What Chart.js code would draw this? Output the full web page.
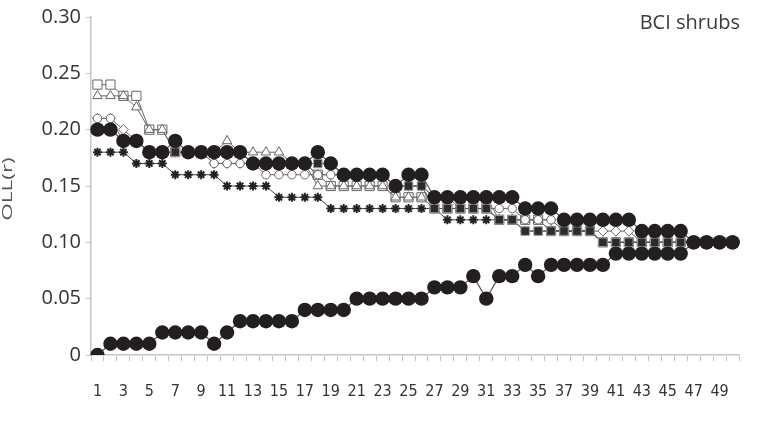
<!DOCTYPE html>
<html><head><meta charset="utf-8">
<script src="https://cdn.jsdelivr.net/npm/chart.js@4.4.1/dist/chart.umd.min.js"></script>
<style>html,body{margin:0;padding:0;background:#fff;}#wrap{width:757px;height:423px;}</style>
</head><body><div id="wrap"><canvas id="c" width="757" height="423"></canvas></div>
<script>
const categories = ['1','2','3','4','5','6','7','8','9','10','11','12','13','14','15','16','17','18','19','20','21','22','23','24','25','26','27','28','29','30','31','32','33','34','35','36','37','38','39','40','41','42','43','44','45','46','47','48','49','50'];
const yTicks = [0, 0.05, 0.10, 0.15, 0.20, 0.25, 0.30];
const chartLabel = 'BCI shrubs';
const yTitle = 'OLL(r)';

const upperCircles = [0.20,0.20,0.19,0.19,0.18,0.18,0.19,0.18,0.18,0.18,0.18,0.18,0.17,0.17,0.17,0.17,0.17,0.18,0.17,0.16,0.16,0.16,0.16,0.15,0.16,0.16,0.14,0.14,0.14,0.14,0.14,0.14,0.14,0.13,0.13,0.13,0.12,0.12,0.12,0.12,0.12,0.12,0.11,0.11,0.11,0.11,0.10,0.10,0.10,0.10];
const lowerCircles = [0,0.01,0.01,0.01,0.01,0.02,0.02,0.02,0.02,0.01,0.02,0.03,0.03,0.03,0.03,0.03,0.04,0.04,0.04,0.04,0.05,0.05,0.05,0.05,0.05,0.05,0.06,0.06,0.06,0.07,0.05,0.07,0.07,0.08,0.07,0.08,0.08,0.08,0.08,0.08,0.09,0.09,0.09,0.09,0.09,0.09,0.10,0.10,0.10,0.10];
const filledSquares = [0.20,0.20,0.19,0.19,0.18,0.18,0.18,0.18,0.18,0.18,0.18,0.18,0.17,0.17,0.17,0.17,0.17,0.17,0.17,0.16,0.16,0.16,0.16,0.15,0.15,0.15,0.13,0.13,0.13,0.13,0.13,0.12,0.12,0.11,0.11,0.11,0.11,0.11,0.11,0.10,0.10,0.10,0.10,0.10,0.10,0.10,0.10,0.10,0.10,0.10];
const asterisks = [0.18,0.18,0.18,0.17,0.17,0.17,0.16,0.16,0.16,0.16,0.15,0.15,0.15,0.15,0.14,0.14,0.14,0.14,0.13,0.13,0.13,0.13,0.13,0.13,0.13,0.13,0.13,0.12,0.12,0.12,0.12,0.12,0.12,0.11,0.11,0.11,0.11,0.11,0.11,0.10,0.10,0.10,0.10,0.10,0.10,0.10,0.10,0.10,0.10,0.10];
const openCircles = [0.21,0.21,0.19,0.19,0.18,0.18,0.18,0.18,0.18,0.17,0.17,0.17,0.17,0.16,0.16,0.16,0.16,0.16,0.16,0.16,0.16,0.16,0.16,0.15,0.15,0.15,0.14,0.14,0.13,0.13,0.13,0.13,0.13,0.12,0.12,0.12,0.11,0.11,0.11,0.10,0.10,0.10,0.10,0.10,0.10,0.10,0.10,0.10,0.10,0.10];
const openDiamonds = [0.21,0.21,0.20,0.19,0.18,0.18,0.18,0.18,0.18,0.17,0.17,0.17,0.17,0.17,0.17,0.17,0.17,0.16,0.16,0.16,0.16,0.16,0.16,0.15,0.15,0.15,0.14,0.14,0.14,0.14,0.14,0.12,0.12,0.12,0.12,0.12,0.11,0.11,0.11,0.11,0.11,0.11,0.10,0.10,0.10,0.10,0.10,0.10,0.10,0.10];
const openTriangles = [0.23,0.23,0.23,0.22,0.20,0.20,0.18,0.18,0.18,0.18,0.19,0.18,0.18,0.18,0.18,0.17,0.17,0.15,0.15,0.15,0.15,0.15,0.15,0.14,0.14,0.14,0.13,0.13,0.13,0.13,0.13,0.12,0.12,0.12,0.12,0.11,0.11,0.11,0.11,0.10,0.10,0.10,0.10,0.10,0.10,0.10,0.10,0.10,0.10,0.10];
const openSquares = [0.24,0.24,0.23,0.23,0.20,0.20,0.18,0.18,0.18,0.18,0.18,0.18,0.17,0.17,0.17,0.17,0.17,0.16,0.15,0.15,0.15,0.15,0.15,0.14,0.14,0.14,0.13,0.13,0.13,0.13,0.13,0.12,0.12,0.12,0.12,0.11,0.11,0.11,0.11,0.10,0.10,0.10,0.10,0.10,0.10,0.10,0.10,0.10,0.10,0.10];

function ds(label, data, style, radius, bg, border, bw, lineColor, lw) {
  return { label, data, pointStyle: style, pointRadius: radius, pointHoverRadius: radius,
    pointBackgroundColor: bg, pointBorderColor: border, pointBorderWidth: bw,
    borderColor: lineColor, borderWidth: lw, fill: false, tension: 0 };
}

const textPlugin = {
  id: 'textPlugin',
  afterDraw(chart) {
    const ctx = chart.ctx;
    const area = chart.chartArea;
    ctx.save();
    ctx.font = '20px "Open Sans", sans-serif';
    ctx.fillStyle = '#3a3a3a';
    ctx.textAlign = 'right';
    ctx.textBaseline = 'middle';
    ctx.fillText(chartLabel, area.right + 1, 23);
    ctx.restore();

    ctx.save();
    ctx.translate(8, (area.top + area.bottom) / 2 + 3);
    ctx.rotate(-Math.PI / 2);
    ctx.scale(1.5, 1);
    ctx.font = '15px "Open Sans", sans-serif';
    ctx.fillStyle = '#555';
    ctx.textAlign = 'center';
    ctx.textBaseline = 'middle';
    ctx.fillText(yTitle, 0, 0);
    ctx.restore();
  }
};

new Chart(document.getElementById('c'), {
  type: 'line',
  data: {
    labels: categories,
    datasets: [
      ds('upper', upperCircles, 'circle', 7.2, '#231f20', '#231f20', 0, '#555', 1.2),
      ds('lower', lowerCircles, 'circle', 7.2, '#231f20', '#231f20', 0, '#555', 1.2),
      ds('filled squares', filledSquares, 'rect', 6, '#2b2b2b', '#9a9a9a', 1, '#555', 1),
      ds('asterisks', asterisks, 'star', 4.5, '#222', '#222', 2, '#444', 1),
      ds('open circles', openCircles, 'circle', 4.2, '#fff', '#666', 1, '#666', 1),
      ds('open diamonds', openDiamonds, 'rectRot', 5, '#fff', '#666', 1, '#666', 1),
      ds('open triangles', openTriangles, 'triangle', 5.5, '#fff', '#666', 1, '#666', 1),
      ds('open squares', openSquares, 'rect', 6.5, '#fff', '#666', 1, '#666', 1)
    ]
  },
  options: {
    responsive: false,
    animation: false,
    events: [],
    layout: { padding: { top: 16, right: 18, left: 0, bottom: 0 } },
    plugins: { legend: { display: false }, tooltip: { enabled: false } },
    scales: {
      x: {
        type: 'category',
        offset: true,
        afterFit(s) { s.height = 68; },
        border: { color: '#c4c4c4', width: 1.5 },
        grid: { offset: true, drawOnChartArea: false, drawTicks: true, tickLength: 6, color: '#c4c4c4' },
        ticks: {
          autoSkip: false, maxRotation: 0, minRotation: 0, padding: 21,
          color: '#333',
          font: { family: '"Liberation Sans Narrow", "DejaVu Sans Condensed", sans-serif', size: 16 },
          callback(v, i) { return i % 2 === 0 ? categories[i] : ''; }
        }
      },
      y: {
        min: 0, max: 0.30,
        afterFit(s) { s.width = 91; },
        afterBuildTicks(s) { s.ticks = yTicks.map(v => ({ value: v })); },
        border: { color: '#c4c4c4', width: 1.5 },
        grid: { drawOnChartArea: false, drawTicks: true, tickLength: 5, color: '#c4c4c4' },
        ticks: {
          padding: 5, color: '#333',
          font: { family: '"Open Sans", sans-serif', size: 20 },
          callback(v) { return v === 0 ? '0' : v.toFixed(2); }
        },
        title: { display: false, text: yTitle }
      }
    }
  },
  plugins: [textPlugin]
});
</script>
</body></html>
